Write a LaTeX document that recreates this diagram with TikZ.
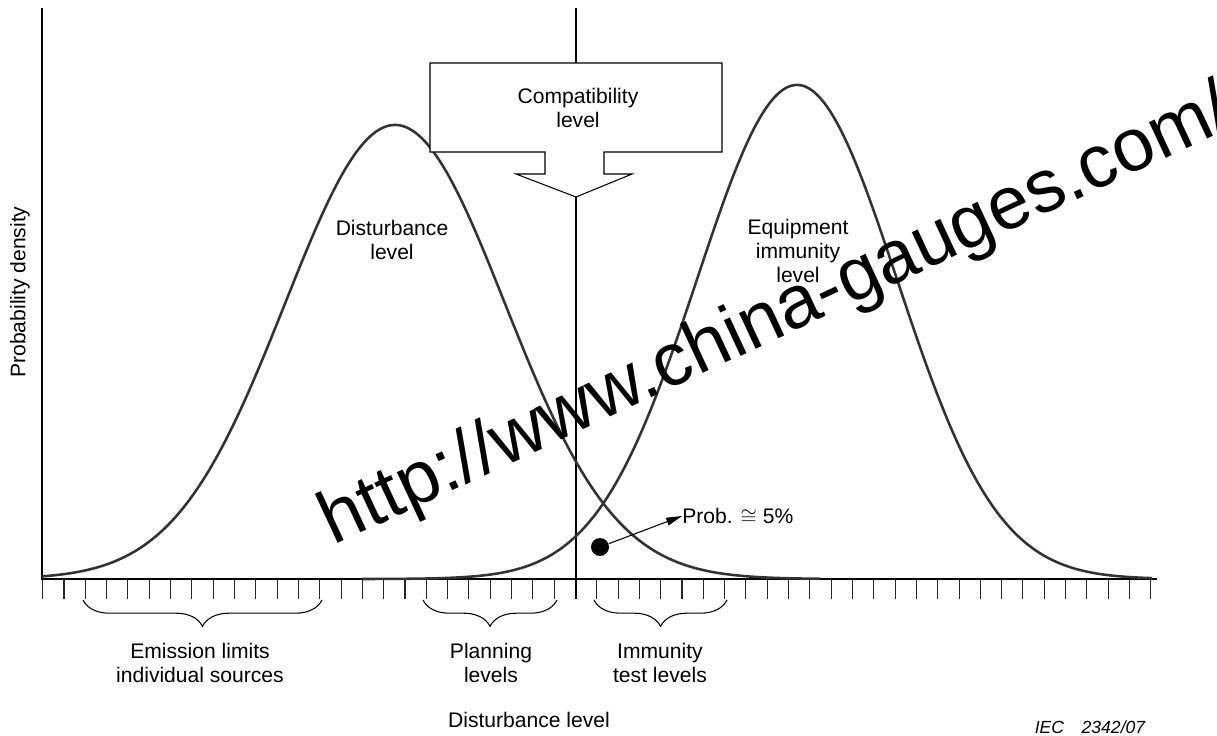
\documentclass[tikz,border=0pt]{standalone}
\usepackage{fontspec}
\setmainfont{Liberation Sans}
\usepackage{tikz}
\usetikzlibrary{arrows.meta,decorations.pathreplacing}
\tikzset{
  axisline/.style={line width=0.6pt, draw=black},
  bell/.style={line width=1.45pt, draw=black!80, smooth},
  tick/.style={line width=0.6pt, draw=black!85},
  lbl/.style={font=\fontsize{12}{13.8}\selectfont, align=center, inner sep=0pt},
  grp/.style={line width=0.6pt, decorate, decoration={brace, mirror, amplitude=15pt, aspect=0.5}},
  callout/.style={line width=0.6pt, draw=black, fill=white, line join=miter},
  probarrow/.style={line width=0.6pt, -{Triangle[length=9pt,width=4.5pt]}},
  watermk/.style={font=\fontsize{42.5}{50}\selectfont, rotate=25, inner sep=0pt},
}
\begin{document}
\begin{tikzpicture}[x=0.02cm, y=-0.02cm]
\useasboundingbox (0,0) rectangle (1217,735);
\coordinate (orig) at (42,579);
\coordinate (yend) at (42,8);
\coordinate (xend) at (1157,579);
\coordinate (ctop) at (576,8);
\coordinate (cbot) at (576,599);
\draw[axisline] (yend) -- (orig) -- (xend);
\foreach \k in {0,...,52}
  \draw[tick] ({42.7+21.31*\k},579) -- ++(0,20);
\draw[axisline] (ctop) -- (cbot);
\draw[bell] plot[domain=42:820, samples=160] ({\x},{579-454*exp(-0.5*((\x-395)/110)^2)});
\draw[bell] plot[domain=362:1152, samples=160] ({\x},{579-494*exp(-0.5*((\x-797)/100)^2)});
\draw[callout] (430,63) -- (722,63) -- (722,152) -- (604,152) -- (604,174) -- (632,174)
  -- (576,197) -- (516,174) -- (545,174) -- (545,152) -- (430,152) -- cycle;
\node[lbl] (compat) at (578,108) {Compatibility\\level};
\node[lbl] (distlbl) at (392,240) {Disturbance\\level};
\node[lbl] (equiplbl) at (798,251) {Equipment\\immunity\\level};
\node[circle, fill=black, minimum size=0.36cm, inner sep=0pt] (dot) at (600,547) {};
\node[lbl, anchor=west] (problbl) at (682,516) {Prob. $\cong$ 5\%};
\draw[probarrow] (dot) -- (problbl.west);
\draw[grp] (83,600) -- (322,600);
\draw[grp] (423,600) -- (557,600);
\draw[grp] (594,600) -- (727,600);
\node[lbl] (emis) at (200,663) {Emission limits\\individual sources};
\node[lbl] (plan) at (491,663) {Planning\\levels};
\node[lbl] (immu) at (660,663) {Immunity\\test levels};
\node[lbl] (xlbl) at (529,720) {Disturbance level};
\node[lbl, rotate=90] (ylbl) at (20,292) {Probability density};
\node[font=\fontsize{10}{12}\selectfont\itshape, inner sep=0pt] (iec) at (1090,727) {IEC\quad 2342/07};
\node[watermk] (wm) at (777,318) {http://www.china-gauges.com/};
\end{tikzpicture}
\end{document}
